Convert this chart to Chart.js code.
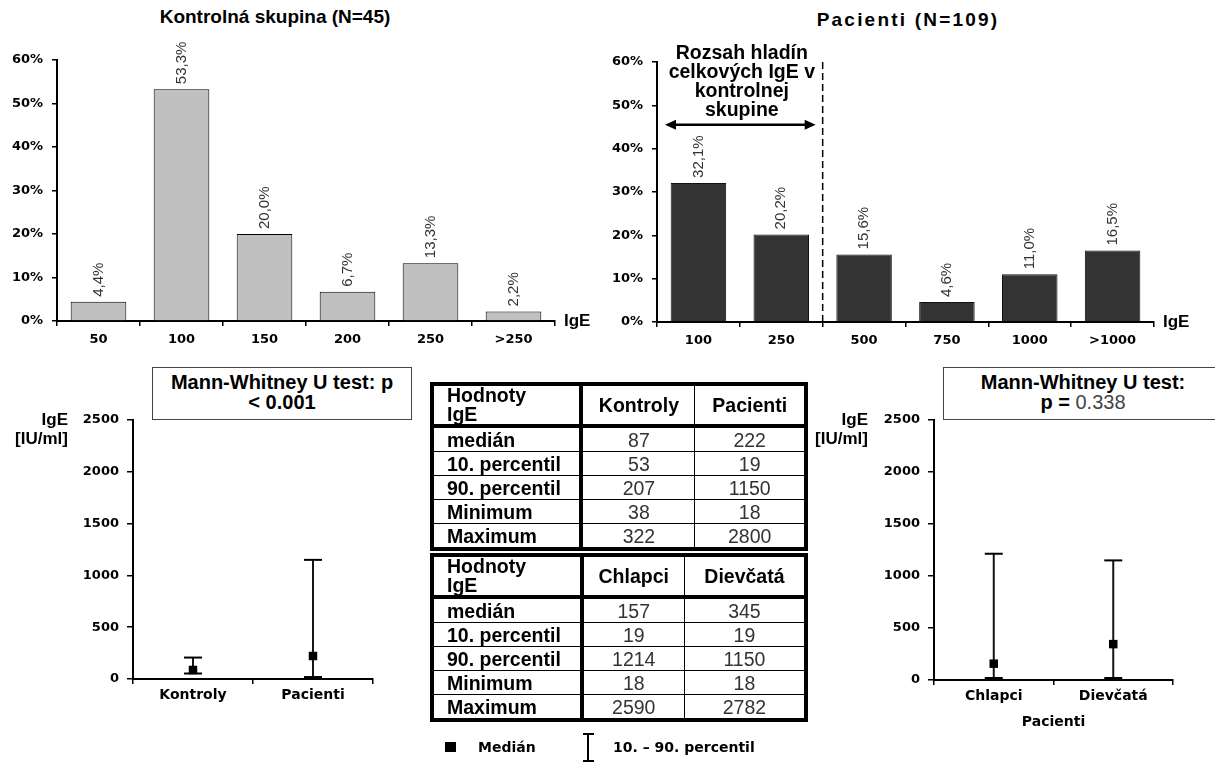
<!DOCTYPE html>
<html>
<head>
<meta charset="utf-8">
<script src="https://cdn.jsdelivr.net/npm/chart.js@4.4.0/dist/chart.umd.min.js"></script>
<style>
  body { margin: 0; width: 1215px; height: 762px; overflow: hidden; background: #fff; position: relative; font-family: "Liberation Sans", Arial, sans-serif; }
  canvas { position: absolute; }
  .abs { position: absolute; }
  .title { font-weight: bold; font-size: 19px; text-align: center; white-space: nowrap; }
  .ylab { font-weight: bold; font-size: 17px; line-height: 19px; text-align: right; }
  .box { border: 1px solid #444; font-weight: bold; font-size: 20px; line-height: 20px; text-align: center; box-sizing: border-box; padding-top: 4px; background: #fff; }
  table.t { position: absolute; left: 430px; width: 378px; border-collapse: collapse; border: 4px solid #000; font-size: 19.5px; }
  table.t td { border: 1.5px solid #000; padding: 0; height: 23px; line-height: 20px; color: #333; text-align: center; }
  table.t td.lab { font-weight: bold; color: #000; text-align: left; padding-left: 13px; border-right: 4px solid #000; }
  table.t tr.head td { height: 38px; border-bottom: 4px solid #000; font-weight: bold; color: #000; }
  table.t tr.head td.lab div { height: 38px; overflow: hidden; line-height: 19px; }
  .leg { font-family: "DejaVu Sans", sans-serif; font-weight: bold; font-size: 14px; line-height: 16px; }
</style>
</head>
<body>
<div class="abs title" style="left:125px; top:6px; width:300px;">Kontrolná skupina (N=45)</div>
<div class="abs title" style="left:758px; top:9px; width:300px; letter-spacing:2.2px;">Pacienti (N=109)</div>

<canvas id="grafKontroly" width="600" height="350" style="left:0; top:0;"></canvas>
<canvas id="grafPacienti" width="615" height="350" style="left:600px; top:0;"></canvas>
<canvas id="grafSkupiny" width="420" height="360" style="left:0; top:360px;"></canvas>
<canvas id="grafPohlavie" width="405" height="380" style="left:810px; top:360px;"></canvas>

<div class="abs box" style="left:152px; top:367px; width:260px; height:53px;">Mann-Whitney U test: p<br>&lt; 0.001</div>
<div class="abs box" style="left:943px; top:367px; width:280px; height:53px;">Mann-Whitney U test:<br>p = <span style="font-weight:normal; color:#444;">0.338</span></div>

<div class="abs ylab" style="left:0; top:410px; width:68px;">IgE<br>[IU/ml]</div>
<div class="abs ylab" style="left:800px; top:410px; width:68px;">IgE<br>[IU/ml]</div>

<table class="t" id="tab1" style="top:382px;"></table>
<table class="t" id="tab2" style="top:553px;"></table>

<!-- legenda -->
<div class="abs" style="left:445px; top:742px; width:11px; height:10px; background:#000;"></div>
<div class="abs leg" style="left:478px; top:739px;">Medián</div>
<div class="abs" style="left:587px; top:734px; width:2px; height:30px; background:#000;"></div>
<div class="abs" style="left:583px; top:733px; width:11px; height:2px; background:#000;"></div>
<div class="abs" style="left:583px; top:760px; width:11px; height:2px; background:#000;"></div>
<div class="abs leg" style="left:613px; top:739px;">10. – 90. percentil</div>

<script>
// histogramy
const kontrolyKat = ['50', '100', '150', '200', '250', '>250'];
const kontrolyPct = [4.4, 53.3, 20.0, 6.7, 13.3, 2.2];
const pacientiKat = ['100', '250', '500', '750', '1000', '>1000'];
const pacientiPct = [32.1, 20.2, 15.6, 4.6, 11.0, 16.5];

// kontroly vs pacienti
const skupiny = ['Kontroly', 'Pacienti'];
const skupMedian = [87, 222];
const skupP10 = [53, 19];
const skupP90 = [207, 1150];
const skupMin = [38, 18];
const skupMax = [322, 2800];

// chlapci vs dievcata
const pohlavie = ['Chlapci', 'Dievčatá'];
const pohlMedian = [157, 345];
const pohlP10 = [19, 19];
const pohlP90 = [1214, 1150];
const pohlMin = [18, 18];
const pohlMax = [2590, 2782];

const riadky = ['medián', '10. percentil', '90. percentil', 'Minimum', 'Maximum'];

function tabulka(id, stlpce, data, sirky) {
  let html = '<tr class="head"><td class="lab" style="width:' + sirky[0] + 'px"><div>Hodnoty<br>IgE</div></td>';
  stlpce.forEach((s, i) => { html += '<td style="width:' + sirky[i + 1] + 'px">' + s + '</td>'; });
  html += '</tr>';
  riadky.forEach((r, j) => {
    html += '<tr><td class="lab">' + r + '</td>';
    stlpce.forEach((s, i) => { html += '<td>' + data[j][i] + '</td>'; });
    html += '</tr>';
  });
  document.getElementById(id).innerHTML = html;
}
tabulka('tab1', skupiny, [skupMedian, skupP10, skupP90, skupMin, skupMax], [138, 115, 113]);
tabulka('tab2', pohlavie, [pohlMedian, pohlP10, pohlP90, pohlMin, pohlMax], [138, 104, 124]);

const tickFont = { family: 'DejaVu Sans', weight: 'bold', size: 13 };

// hodnoty nad stlpcami, otocene
const hodnoty = {
  id: 'hodnoty',
  afterDatasetsDraw(chart) {
    const ctx = chart.ctx;
    const data = chart.data.datasets[0].data;
    ctx.save();
    ctx.font = '15px "Liberation Sans", Arial';
    ctx.fillStyle = '#333';
    ctx.textAlign = 'left';
    ctx.textBaseline = 'middle';
    chart.getDatasetMeta(0).data.forEach((bar, i) => {
      ctx.save();
      ctx.translate(bar.x, bar.y - 5);
      ctx.rotate(-Math.PI / 2);
      ctx.fillText(data[i].toFixed(1).replace('.', ',') + '%', 0, 0);
      ctx.restore();
    });
    ctx.restore();
  }
};

// popis "IgE" na konci osi x
const osIgE = {
  id: 'osIgE',
  afterDraw(chart) {
    const ctx = chart.ctx, a = chart.chartArea;
    ctx.save();
    ctx.font = 'bold 17px "Liberation Sans", Arial';
    ctx.fillStyle = '#000';
    ctx.textBaseline = 'middle';
    ctx.fillText('IgE', a.right + 9, a.bottom);
    ctx.restore();
  }
};

// rozsah kontrolnej skupiny v grafe pacientov
const rozsah = {
  id: 'rozsah',
  afterDatasetsDraw(chart) {
    const ctx = chart.ctx, a = chart.chartArea;
    const x = chart.scales.x, y = chart.scales.y;
    const xd = (x.getPixelForValue(1) + x.getPixelForValue(2)) / 2;
    const ya = y.getPixelForValue(45.5);
    ctx.save();
    ctx.strokeStyle = '#000';
    ctx.lineWidth = 1.5;
    ctx.setLineDash([7, 4]);
    ctx.beginPath(); ctx.moveTo(xd, a.top); ctx.lineTo(xd, a.bottom); ctx.stroke();
    ctx.setLineDash([]);
    const x1 = a.left + 8, x2 = xd - 7;
    ctx.lineWidth = 2.5;
    ctx.beginPath(); ctx.moveTo(x1 + 6, ya); ctx.lineTo(x2 - 6, ya); ctx.stroke();
    ctx.fillStyle = '#000';
    ctx.beginPath(); ctx.moveTo(x1, ya); ctx.lineTo(x1 + 11, ya - 5); ctx.lineTo(x1 + 11, ya + 5); ctx.fill();
    ctx.beginPath(); ctx.moveTo(x2, ya); ctx.lineTo(x2 - 11, ya - 5); ctx.lineTo(x2 - 11, ya + 5); ctx.fill();
    ctx.font = 'bold 19.5px "Liberation Sans", Arial';
    ctx.textAlign = 'center';
    ctx.textBaseline = 'middle';
    const xt = (a.left + xd) / 2 + 2;
    ['Rozsah hladín', 'celkových IgE v', 'kontrolnej', 'skupine'].forEach((t, i) => {
      ctx.fillText(t, xt, ya - 71 + i * 19);
    });
    ctx.restore();
  }
};

function histogram(id, labels, data, farba, okraj, yw, xh, pad) {
  return new Chart(document.getElementById(id), {
    type: 'bar',
    data: {
      labels: labels,
      datasets: [{
        data: data,
        backgroundColor: farba,
        borderColor: okraj,
        borderWidth: 1,
        barPercentage: 0.67,
        categoryPercentage: 1
      }]
    },
    options: {
      responsive: false,
      animation: false,
      layout: { padding: pad },
      plugins: { legend: { display: false }, tooltip: { enabled: false } },
      scales: {
        x: {
          afterFit: s => { s.height = xh; },
          grid: { drawOnChartArea: false, color: '#000', lineWidth: 1.5, tickLength: 5 },
          border: { color: '#000', width: 2 },
          ticks: { color: '#000', font: { family: 'DejaVu Sans', weight: 'bold', size: 13 }, padding: 6 }
        },
        y: {
          min: 0, max: 60,
          afterFit: s => { s.width = yw; },
          grid: { drawOnChartArea: false, color: '#000', lineWidth: 1.5, tickLength: 5 },
          border: { color: '#000', width: 2 },
          ticks: { stepSize: 10, color: '#000', font: tickFont, padding: 9, callback: v => v + '%' }
        }
      }
    },
    plugins: [hodnoty, osIgE].concat(id === 'grafPacienti' ? [rozsah] : [])
  });
}

histogram('grafKontroly', kontrolyKat, kontrolyPct, '#c0c0c0', '#000', 57, 29, { top: 60, right: 45, left: 0, bottom: 0 });
histogram('grafPacienti', pacientiKat, pacientiPct, '#333333', '#111', 57, 28, { top: 62, right: 61, left: 0, bottom: 0 });

function rozptyl(id, labels, p10, p90, med, yw, xh, pad, nazovX) {
  return new Chart(document.getElementById(id), {
    type: 'bar',
    data: {
      labels: labels,
      datasets: [
        { data: labels.map((_, i) => [p10[i], p90[i]]), backgroundColor: '#111', barThickness: 1.3, order: 3 },
        { type: 'line', data: p10, showLine: false, pointStyle: 'line', pointRadius: 9, borderColor: '#000', borderWidth: 2, order: 2 },
        { type: 'line', data: p90, showLine: false, pointStyle: 'line', pointRadius: 9, borderColor: '#000', borderWidth: 2, order: 2 },
        { type: 'line', data: med, showLine: false, pointStyle: 'rect', pointRadius: 6, backgroundColor: '#000', borderColor: '#000', borderWidth: 0, order: 1 }
      ]
    },
    options: {
      responsive: false,
      animation: false,
      layout: { padding: pad },
      plugins: { legend: { display: false }, tooltip: { enabled: false } },
      scales: {
        x: {
          afterFit: s => { s.height = xh; },
          grid: { drawOnChartArea: false, color: '#000', lineWidth: 1.5, tickLength: 5 },
          border: { color: '#000', width: 2 },
          ticks: { color: '#000', font: { family: 'DejaVu Sans', weight: 'bold', size: 14 }, padding: 3 },
          title: {
            display: !!nazovX, text: nazovX, color: '#000',
            font: { family: 'DejaVu Sans', weight: 'bold', size: 14 }, padding: { top: 4, bottom: 9 }
          }
        },
        y: {
          min: 0, max: 2500,
          afterFit: s => { s.width = yw; },
          grid: { drawOnChartArea: false, color: '#000', lineWidth: 1.5, tickLength: 6 },
          border: { color: '#000', width: 2 },
          ticks: { stepSize: 500, color: '#000', font: tickFont, padding: 8, callback: v => String(v) }
        }
      }
    }
  });
}

rozptyl('grafSkupiny', skupiny, skupP10, skupP90, skupMedian, 133, 41, { top: 60, right: 47, left: 0, bottom: 0 }, '');
rozptyl('grafPohlavie', pohlavie, pohlP10, pohlP90, pohlMedian, 124, 60, { top: 60, right: 42, left: 0, bottom: 0 }, 'Pacienti');
</script>
</body>
</html>
